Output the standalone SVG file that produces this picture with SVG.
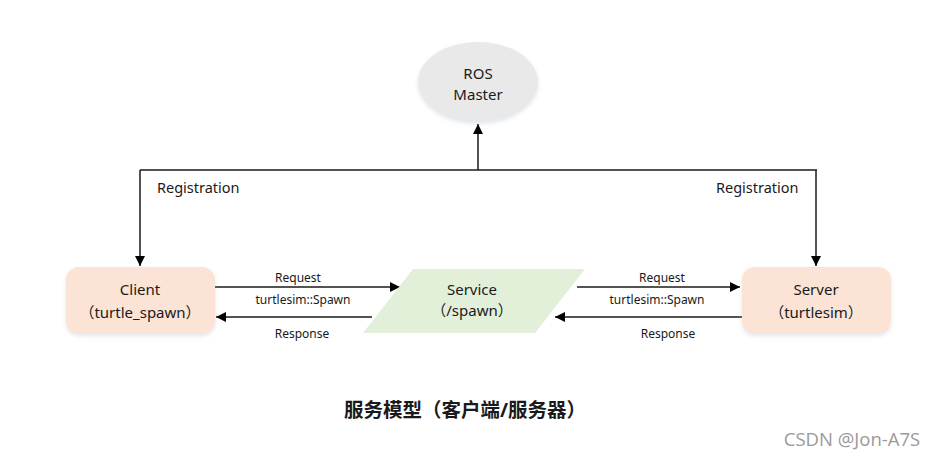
<svg xmlns="http://www.w3.org/2000/svg" width="937" height="460" viewBox="0 0 937 460">
<style>
.t{font-family:"Noto Sans","Noto Sans CJK SC",sans-serif;fill:#1a1a1a}
.node{font-size:15px;text-anchor:middle}
.lbl{font-size:12px;text-anchor:middle}
.reg{font-size:14.5px}
.ln{stroke:#1a1a1a;stroke-width:1.5;fill:none}
</style>
<defs>
<marker id="ah" viewBox="0 0 10 10" refX="10" refY="5" markerWidth="10" markerHeight="10" markerUnits="userSpaceOnUse" orient="auto">
<path d="M0,0 L10,5 L0,10 z" fill="#000"/>
</marker>
<filter id="sh" x="-10%" y="-10%" width="120%" height="130%">
<feDropShadow dx="0" dy="2" stdDeviation="2" flood-color="#9fb8d0" flood-opacity="0.35"/>
</filter>
</defs>
<rect width="937" height="460" fill="#fff"/>
<g id="connectors">
<path class="ln" d="M478,170 V124" marker-end="url(#ah)"/>
<path class="ln" d="M140,170 H817"/>
<path class="ln" d="M140,170 V266" marker-end="url(#ah)"/>
<path class="ln" d="M816,170 V266" marker-end="url(#ah)"/>
<path class="ln" d="M215,287 H400" marker-end="url(#ah)"/>
<path class="ln" d="M372,317 H216" marker-end="url(#ah)"/>
<path class="ln" d="M577,287 H740" marker-end="url(#ah)"/>
<path class="ln" d="M742,317 H555" marker-end="url(#ah)"/>
<text class="t reg" x="157" y="193">Registration</text>
<text class="t reg" x="716" y="193">Registration</text>
<text class="t lbl" x="298" y="282">Request</text>
<text class="t lbl" x="303" y="304">turtlesim::Spawn</text>
<text class="t lbl" x="302" y="338">Response</text>
<text class="t lbl" x="662" y="282">Request</text>
<text class="t lbl" x="657" y="304">turtlesim::Spawn</text>
<text class="t lbl" x="668" y="338">Response</text>
</g>
<g id="master">
<ellipse cx="478" cy="82" rx="60" ry="40" fill="#e9e9e9" filter="url(#sh)"/>
<text class="t node" x="478" y="79">ROS</text>
<text class="t node" x="478" y="100">Master</text>
</g>
<g id="client">
<rect x="66" y="267" width="149" height="67" rx="13" fill="#fbe4d5" filter="url(#sh)"/>
<text class="t node" x="140" y="295">Client</text>
<text class="t node" x="140" y="318">（turtle_spawn）</text>
</g>
<g id="service">
<polygon points="413,269 585,269 535,333 363,333" fill="#e2efd9"/>
<text class="t node" x="472" y="295">Service</text>
<text class="t node" x="472" y="316">（/spawn）</text>
</g>
<g id="server">
<rect x="742" y="267" width="149" height="67" rx="13" fill="#fbe4d5" filter="url(#sh)"/>
<text class="t node" x="816" y="295">Server</text>
<text class="t node" x="816" y="318">（turtlesim）</text>
</g>
<text class="t" x="465" y="417" font-size="19.5" font-weight="bold" text-anchor="middle">服务模型（客户端/服务器）</text>
<text x="852" y="446" font-family="Open Sans, sans-serif" font-size="18.5" fill="#9a9a9a" text-anchor="middle">CSDN @Jon-A7S</text>
</svg>
